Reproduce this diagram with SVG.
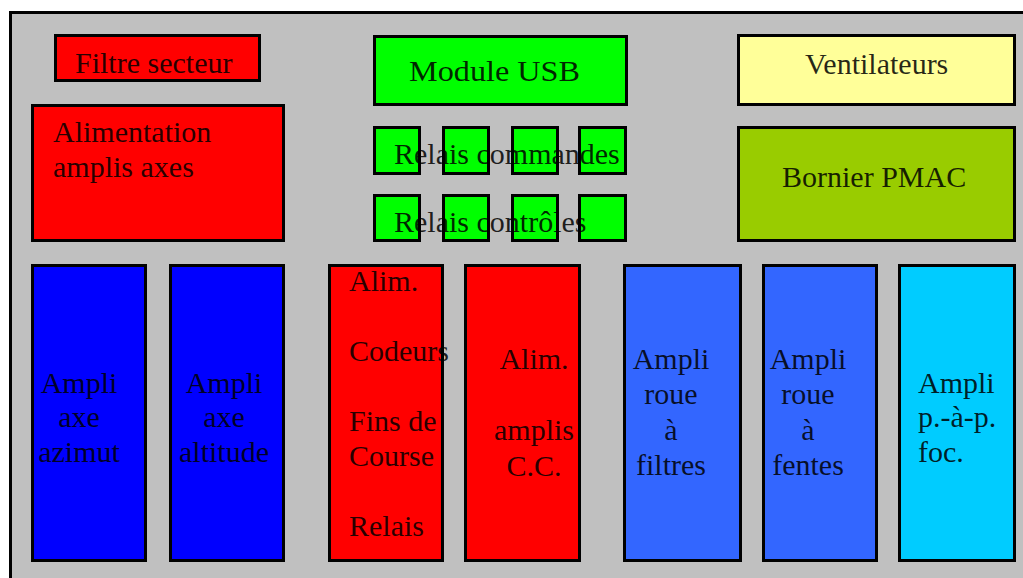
<svg xmlns="http://www.w3.org/2000/svg" width="1023" height="578" viewBox="0 0 1023 578">
  <style>
    .box { stroke: #000; stroke-width: 3; }
    .lbl { font-family: "Liberation Serif", "Times New Roman", serif; font-size: 30px; fill: #000; fill-opacity: 0.85; }
    .mid { text-anchor: middle; }
    .red { fill: #ff0000; }
    .green { fill: #00ff00; }
    .blue { fill: #0000ff; }
    .lblue { fill: #3366ff; }
    .cyan { fill: #00ccff; }
  </style>
  <rect width="1023" height="578" fill="#ffffff"/>
  <!-- cabinet outline -->
  <rect id="cabinet" x="10.5" y="12.5" width="1040" height="600" fill="#c0c0c0" stroke="#000" stroke-width="3"/>

  <g id="filtre-secteur">
    <rect class="box red" x="55.5" y="35.5" width="204" height="45"/>
    <text class="lbl" x="75" y="73">Filtre secteur</text>
  </g>

  <g id="alimentation-amplis-axes">
    <rect class="box red" x="32.5" y="105.5" width="251" height="135"/>
    <text class="lbl" x="53" y="142">Alimentation</text>
    <text class="lbl" x="53" y="177">amplis axes</text>
  </g>

  <g id="module-usb">
    <rect class="box green" x="374.5" y="36.5" width="252" height="68"/>
    <text class="lbl" x="409" y="81" textLength="171" lengthAdjust="spacingAndGlyphs">Module USB</text>
  </g>

  <g id="relais-commandes">
    <rect class="box green" x="374.5" y="127.5" width="45" height="46"/>
    <rect class="box green" x="443.5" y="127.5" width="45" height="46"/>
    <rect class="box green" x="512.5" y="127.5" width="45" height="46"/>
    <rect class="box green" x="579.5" y="127.5" width="46" height="46"/>
    <text class="lbl" x="394" y="164">Relais commandes</text>
  </g>

  <g id="relais-controles">
    <rect class="box green" x="374.5" y="195.5" width="45" height="45"/>
    <rect class="box green" x="443.5" y="195.5" width="45" height="45"/>
    <rect class="box green" x="512.5" y="195.5" width="45" height="45"/>
    <rect class="box green" x="579.5" y="195.5" width="46" height="45"/>
    <text class="lbl" x="394" y="232">Relais contrôles</text>
  </g>

  <g id="ventilateurs">
    <rect class="box" fill="#ffff99" x="738.5" y="35.5" width="276" height="69"/>
    <text class="lbl" x="805" y="74">Ventilateurs</text>
  </g>

  <g id="bornier-pmac">
    <rect class="box" fill="#99cc00" x="738.5" y="127.5" width="276" height="113"/>
    <text class="lbl" x="782" y="187">Bornier PMAC</text>
  </g>

  <g id="ampli-azimut">
    <rect class="box blue" x="32.5" y="265.5" width="113" height="295"/>
    <text class="lbl mid" x="79" y="393">Ampli</text>
    <text class="lbl mid" x="79" y="427">axe</text>
    <text class="lbl mid" x="79" y="462">azimut</text>
  </g>

  <g id="ampli-altitude">
    <rect class="box blue" x="170.5" y="265.5" width="113" height="295"/>
    <text class="lbl mid" x="224" y="393">Ampli</text>
    <text class="lbl mid" x="224" y="427">axe</text>
    <text class="lbl mid" x="224" y="462">altitude</text>
  </g>

  <g id="alim-codeurs">
    <rect class="box red" x="329.5" y="265.5" width="113" height="295"/>
    <text class="lbl" x="349" y="291">Alim.</text>
    <text class="lbl" x="349" y="361">Codeurs</text>
    <text class="lbl" x="349" y="431">Fins de</text>
    <text class="lbl" x="349" y="466">Course</text>
    <text class="lbl" x="349" y="536">Relais</text>
  </g>

  <g id="alim-amplis-cc">
    <rect class="box red" x="465.5" y="265.5" width="114" height="295"/>
    <text class="lbl mid" x="534" y="369">Alim.</text>
    <text class="lbl mid" x="534" y="440">amplis</text>
    <text class="lbl mid" x="534" y="476">C.C.</text>
  </g>

  <g id="ampli-roue-filtres">
    <rect class="box lblue" x="624.5" y="265.5" width="116" height="295"/>
    <text class="lbl mid" x="671" y="369">Ampli</text>
    <text class="lbl mid" x="671" y="404">roue</text>
    <text class="lbl mid" x="671" y="440">à</text>
    <text class="lbl mid" x="671" y="475">filtres</text>
  </g>

  <g id="ampli-roue-fentes">
    <rect class="box lblue" x="763.5" y="265.5" width="113" height="295"/>
    <text class="lbl mid" x="808" y="369">Ampli</text>
    <text class="lbl mid" x="808" y="404">roue</text>
    <text class="lbl mid" x="808" y="440">à</text>
    <text class="lbl mid" x="808" y="475">fentes</text>
  </g>

  <g id="ampli-pap-foc">
    <rect class="box cyan" x="899.5" y="265.5" width="115" height="295"/>
    <text class="lbl" x="918" y="393">Ampli</text>
    <text class="lbl" x="918" y="427">p.-à-p.</text>
    <text class="lbl" x="918" y="462">foc.</text>
  </g>

  <!-- no wiring is drawn between the modules -->
  <g id="connectors"/>
</svg>
